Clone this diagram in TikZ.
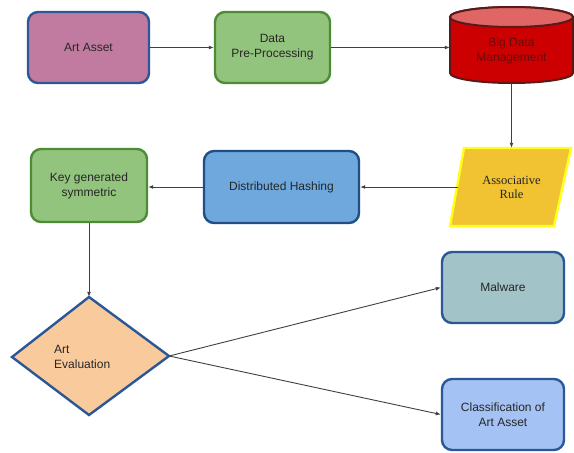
\documentclass[tikz,border=0pt]{standalone}
\usepackage{fontspec}
\setmainfont{Liberation Sans}
\newfontfamily\serifface{Liberation Serif}
\usetikzlibrary{arrows.meta,shapes.geometric}
\definecolor{bblue}{HTML}{2B5797}
\definecolor{gborder}{HTML}{4E8B35}
\definecolor{gfill}{HTML}{93C47D}
\definecolor{pinkfill}{HTML}{C27BA0}
\definecolor{redfill}{HTML}{CC0000}
\definecolor{redtop}{HTML}{E06666}
\definecolor{redborder}{HTML}{5A1A1A}
\definecolor{redtext}{HTML}{6B0A0A}
\definecolor{yfill}{HTML}{F1C232}
\definecolor{yborder}{HTML}{FFFF1A}
\definecolor{dhfill}{HTML}{6FA8DC}
\definecolor{dhborder}{HTML}{1F4F85}
\definecolor{orfill}{HTML}{F9CB9C}
\definecolor{mwfill}{HTML}{A2C4C9}
\definecolor{clfill}{HTML}{A4C2F4}
\definecolor{txt}{HTML}{262626}
\definecolor{conn}{HTML}{404040}
\tikzset{
  boxnode/.style={rectangle, rounded corners=10pt, line width=2.4pt, align=center,
    text=txt, font=\fontsize{12}{15}\selectfont, inner sep=0pt},
  plainnode/.style={rectangle, inner sep=0pt, align=center, text=txt,
    font=\fontsize{12}{15}\selectfont},
  conline/.style={draw=conn, line width=0.9pt, -{Latex[length=5pt,width=4pt]}},
}
\begin{document}
\begin{tikzpicture}[x=1pt,y=-1pt]
\useasboundingbox[fill=white] (0,0) rectangle (574,453);

% Art Asset
\node[boxnode, draw=bblue, fill=pinkfill, minimum width=121pt, minimum height=71pt]
  (aa) at (88.5,47.5) {Art Asset};
% Data Pre-Processing
\node[boxnode, draw=gborder, fill=gfill, minimum width=115pt, minimum height=71pt]
  (dp) at (272.5,47.5) {Data\\Pre-Processing};
% Big Data Management cylinder
\path[fill=redfill, draw=redborder, line width=2pt]
  (450,17) -- (450,73) arc[start angle=180, end angle=0, x radius=61.5, y radius=10]
  -- (573,17) arc[start angle=0, end angle=-180, x radius=61.5, y radius=10] -- cycle;
\path[fill=redtop, draw=redborder, line width=2pt]
  (511.5,17) ellipse[x radius=61.5, y radius=10];
\node[plainnode, text=redtext, minimum width=123pt, minimum height=76pt]
  (bd) at (511.5,45) {};
\node[plainnode, text=redtext] (bdt) at (511.5,51) {Big Data\\Management};
% Associative Rule parallelogram
\path[fill=yfill, draw=yborder, line width=2.4pt]
  (464,148) -- (571,148) -- (554,226) -- (450,226) -- cycle;
\node[plainnode, font=\serifface\fontsize{12.5}{14}\selectfont, minimum width=106pt, minimum height=78pt]
  (ar) at (511.5,187) {Associative\\Rule};
% Distributed Hashing
\node[boxnode, draw=dhborder, fill=dhfill, minimum width=155pt, minimum height=72pt]
  (dh) at (281.5,187) {Distributed Hashing};
% Key generated symmetric
\node[boxnode, draw=gborder, fill=gfill, minimum width=116pt, minimum height=73pt]
  (kg) at (89,185.5) {Key generated\\symmetric};
% Art Evaluation diamond
\path[fill=orfill, draw=bblue, line width=2.4pt]
  (89,297) -- (169,356) -- (89,415) -- (12,357) -- cycle;
\node[plainnode, minimum width=160pt, minimum height=118pt] (ae) at (89,356) {};
\node[plainnode, align=left, anchor=west] (aet) at (54,357) {Art\\Evaluation};
% Malware
\node[boxnode, draw=bblue, fill=mwfill, minimum width=122pt, minimum height=71pt]
  (mw) at (503,287.5) {Malware};
% Classification
\node[boxnode, draw=bblue, fill=clfill, minimum width=122pt, minimum height=71pt]
  (cl) at (503,414.5) {Classification of\\Art Asset};

% connectors
\draw[conline] (aa.east) -- (dp.west);
\draw[conline] (dp.east) -- (bd.west |- dp.east);
\draw[conline] (bd.south) -- (ar.north);
\draw[conline] (ar.west) -- (dh.east);
\draw[conline] (dh.west) -- (kg.east |- dh.west);
\draw[conline] (kg.south) -- (ae.north);
\draw[conline] (ae.east) -- (mw.west);
\draw[conline] (ae.east) -- (cl.west);
\end{tikzpicture}
\end{document}
